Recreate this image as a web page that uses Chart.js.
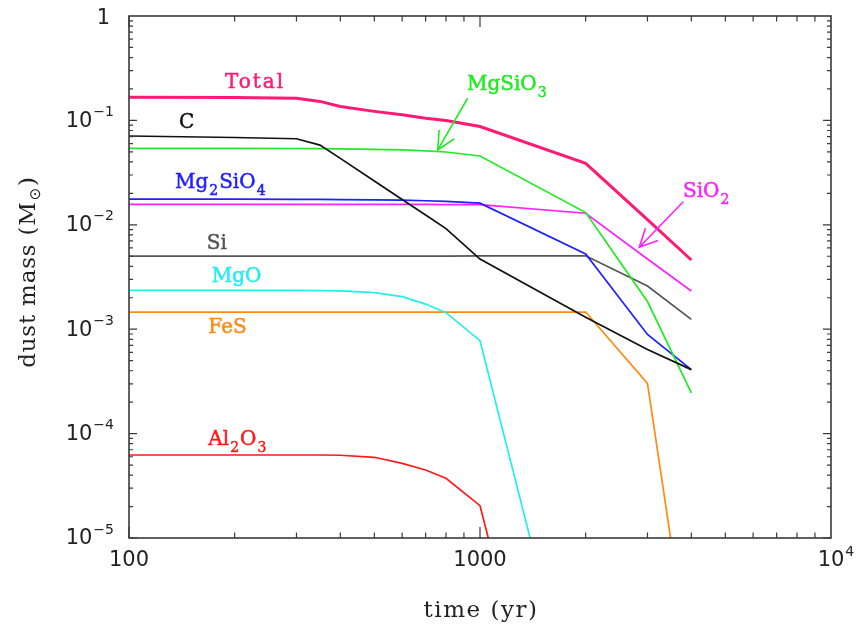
<!DOCTYPE html>
<html><head><meta charset="utf-8">
<script src="https://cdn.jsdelivr.net/npm/chart.js@4.4.1/dist/chart.umd.min.js"></script>
<style>html,body{margin:0;padding:0;background:#fff;}#wrap{width:866px;height:627px;}</style>
</head><body><div id="wrap"><canvas id="c" width="866" height="627"></canvas></div>
<script>
// ---- data (time in yr, dust mass in solar masses) ----
const times    = [100, 200, 300, 350, 400, 500, 600, 700, 800, 1000, 2000, 3000, 4000];
const total    = [0.167, 0.166, 0.163, 0.152, 0.136, 0.122, 0.113, 0.105, 0.100, 0.0874, 0.0388, 0.0112, 0.0046];
const carbon   = [0.0709, 0.0686, 0.0667, 0.058, 0.0433, 0.0263, 0.0175, 0.0124, 0.0092, 0.0047, 0.0013, 0.00064, 0.00041];
const mgsio3   = [0.054, 0.054, 0.0538, 0.0536, 0.0533, 0.0528, 0.0521, 0.051, 0.0498, 0.0456, 0.0131, 0.00184, 0.000246];
const mg2sio4  = [0.0176, 0.0176, 0.0175, 0.0175, 0.0174, 0.0173, 0.0172, 0.017, 0.0168, 0.0161, 0.00525, 0.00089, 0.00041];
const sio2     = [0.0157, 0.0157, 0.0157, 0.0157, 0.0157, 0.0157, 0.0157, 0.0157, 0.0156, 0.0156, 0.0129, 0.0047, 0.00232];
const si       = [0.00502, 0.00502, 0.00502, 0.00502, 0.00502, 0.00502, 0.00502, 0.00502, 0.00502, 0.00503, 0.00505, 0.00259, 0.00124];
const mgo      = [0.00236, 0.00236, 0.00235, 0.00234, 0.00233, 0.00224, 0.00205, 0.00174, 0.00144, 0.000776, 8e-8, null, null];
const fes      = [0.00146, 0.00146, 0.00146, 0.00146, 0.00146, 0.00146, 0.00146, 0.00146, 0.00146, 0.00146, 0.00146, 0.000303, 4.7e-7];
const al2o3    = [6.24e-5, 6.24e-5, 6.24e-5, 6.24e-5, 6.2e-5, 5.93e-5, 5.19e-5, 4.48e-5, 3.73e-5, 2.04e-5, 2.3e-9, null, null];

const seriesNames  = ['Total', 'C', 'MgSiO3', 'Mg2SiO4', 'SiO2', 'Si', 'MgO', 'FeS', 'Al2O3'];
const seriesValues = [total, carbon, mgsio3, mg2sio4, sio2, si, mgo, fes, al2o3];
const seriesColors = ['#ff1a75', '#111111', '#22ea22', '#1f1fff', '#ff22ff', '#555555', '#22eeee', '#ff8a14', '#ff1a1a'];
const seriesWidths = [3, 1.7, 1.7, 1.7, 1.7, 1.7, 1.7, 1.7, 1.7];

// label anchors (left, baseline) in data coordinates
const labelTimes  = [187.7, 138.8, 918, 135.2, 3786, 166.5, 172, 168.3, 168.3];
const labelMasses = [0.204, 0.0846, 0.1955, 0.02252, 0.01858, 0.00582, 0.00285, 0.000914, 7.78e-5];

// arrows (from label to curve) in data coordinates
const arrowSeries    = ['MgSiO3', 'SiO2'];
const arrowFromTime  = [922, 3794];
const arrowFromMass  = [0.163, 0.01665];
const arrowToTime    = [758, 2843];
const arrowToMass    = [0.0521, 0.00609];

// axis ticks
const xMajor = [100, 1000, 10000];
const xMajorLabels = [['100', ''], ['1000', ''], ['10', '4']];
const yMajor = [1, 0.1, 0.01, 0.001, 1e-4, 1e-5];
const yMajorLabels = [['1', ''], ['10', '\u22121'], ['10', '\u22122'], ['10', '\u22123'], ['10', '\u22124'], ['10', '\u22125']];

const xTitle = 'time (yr)';
const yTitle = 'dust mass (M';

// ---- helpers ----
function parseChem(s) {
  const parts = [];
  for (const ch of s) {
    const sub = /[0-9]/.test(ch);
    if (parts.length && parts[parts.length - 1].sub === sub) parts[parts.length - 1].t += ch;
    else parts.push({ t: ch, sub });
  }
  return parts;
}
const LABEL_FONT = 'DejaVu Serif';
function drawChem(ctx, x, y, text, color) {
  const parts = parseChem(text);
  ctx.save();
  ctx.fillStyle = color;
  ctx.strokeStyle = color;
  ctx.lineWidth = 0.5;
  ctx.textBaseline = 'alphabetic';
  ctx.textAlign = 'left';
  ctx.letterSpacing = text === 'Total' ? '2px' : '0px';
  let cx = x;
  for (const p of parts) {
    ctx.font = p.sub ? `14px "${LABEL_FONT}"` : `20px "${LABEL_FONT}"`;
    const yy = p.sub ? y + 7 : y;
    ctx.fillText(p.t, cx, yy);
    ctx.strokeText(p.t, cx, yy);
    cx += ctx.measureText(p.t).width + 1;
  }
  ctx.restore();
}

const overlay = {
  id: 'overlay',
  afterDatasetsDraw(chart) {
    const ctx = chart.ctx;
    const xs = chart.scales.x, ys = chart.scales.y;
    const a = chart.chartArea;
    ctx.save();
    // frame
    ctx.strokeStyle = '#3a3a3a';
    ctx.lineWidth = 1.6;
    ctx.strokeRect(a.left, a.top, a.right - a.left, a.bottom - a.top);
    // ticks
    ctx.lineWidth = 1.2;
    ctx.beginPath();
    for (let d = 100; d < 10000; d *= 10) {
      for (let k = 1; k <= 9; k++) {
        const v = k * d;
        const px = xs.getPixelForValue(v);
        const len = k === 1 ? 11 : 5.5;
        ctx.moveTo(px, a.bottom); ctx.lineTo(px, a.bottom - len);
        ctx.moveTo(px, a.top); ctx.lineTo(px, a.top + len);
      }
    }
    for (let e = -5; e < 0; e++) {
      for (let k = 1; k <= 9; k++) {
        const v = k * Math.pow(10, e);
        const py = ys.getPixelForValue(v);
        const len = k === 1 ? 8 : 4;
        ctx.moveTo(a.left, py); ctx.lineTo(a.left + len, py);
        ctx.moveTo(a.right, py); ctx.lineTo(a.right - len, py);
      }
    }
    ctx.stroke();

    // tick labels
    ctx.fillStyle = '#222';
    ctx.textBaseline = 'middle';
    const TF = 'DejaVu Sans';
    yMajor.forEach((v, i) => {
      const py = ys.getPixelForValue(v);
      const [base, sup] = yMajorLabels[i];
      ctx.font = `14px "${TF}"`;
      const sw = sup ? ctx.measureText(sup).width : 0;
      const right = 114;
      if (sup) {
        ctx.textAlign = 'right';
        ctx.fillText(sup, right, py - 8);
        ctx.font = `21px "${TF}"`;
        ctx.fillText(base, right - sw - 1, py + 1);
      } else {
        ctx.font = `21px "${TF}"`;
        ctx.textAlign = 'right';
        ctx.fillText(base, 110, py + 3);
      }
    });
    xMajor.forEach((v, i) => {
      const px = xs.getPixelForValue(v);
      const [base, sup] = xMajorLabels[i];
      ctx.font = `21px "${TF}"`;
      ctx.textAlign = 'center';
      ctx.fillText(base, px, 561);
      if (sup) {
        const bw = ctx.measureText(base).width;
        ctx.font = `14px "${TF}"`;
        ctx.textAlign = 'left';
        ctx.fillText(sup, px + bw / 2 + 1, 552);
      }
    });

    // axis titles
    ctx.fillStyle = '#222';
    ctx.font = `23px "${LABEL_FONT}"`;
    ctx.letterSpacing = '1.5px';
    ctx.textAlign = 'center';
    ctx.textBaseline = 'alphabetic';
    ctx.fillText(xTitle, (a.left + a.right) / 2 + 1, 617);
    ctx.save();
    ctx.translate(35, 272);
    ctx.rotate(-Math.PI / 2);
    ctx.letterSpacing = '0.8px';
    const t1 = yTitle, t2 = ')';
    const w1 = ctx.measureText(t1).width;
    ctx.font = `15px "DejaVu Sans"`;
    const wsun = ctx.measureText('\u2299').width + 2;
    ctx.font = `23px "${LABEL_FONT}"`;
    const w2 = ctx.measureText(t2).width;
    const tw = w1 + wsun + w2;
    ctx.textAlign = 'left';
    ctx.fillText(t1, -tw / 2, 0);
    ctx.font = `15px "DejaVu Sans"`;
    ctx.fillText('\u2299', -tw / 2 + w1 + 1, 5);
    ctx.font = `23px "${LABEL_FONT}"`;
    ctx.fillText(t2, -tw / 2 + w1 + wsun, 0);
    ctx.restore();
    ctx.letterSpacing = '0px';

    // series labels
    seriesNames.forEach((n, i) => {
      drawChem(ctx, xs.getPixelForValue(labelTimes[i]), ys.getPixelForValue(labelMasses[i]), n, seriesColors[i]);
    });

    // arrows
    arrowSeries.forEach((n, i) => {
      const c = seriesColors[seriesNames.indexOf(n)];
      const x0 = xs.getPixelForValue(arrowFromTime[i]), y0 = ys.getPixelForValue(arrowFromMass[i]);
      const x1 = xs.getPixelForValue(arrowToTime[i]), y1 = ys.getPixelForValue(arrowToMass[i]);
      const ang = Math.atan2(y0 - y1, x0 - x1);
      const hl = 20, ha = 26 * Math.PI / 180;
      ctx.strokeStyle = c;
      ctx.lineWidth = 1.6;
      ctx.beginPath();
      ctx.moveTo(x0, y0); ctx.lineTo(x1, y1);
      ctx.moveTo(x1 + hl * Math.cos(ang - ha), y1 + hl * Math.sin(ang - ha));
      ctx.lineTo(x1, y1);
      ctx.lineTo(x1 + hl * Math.cos(ang + ha), y1 + hl * Math.sin(ang + ha));
      ctx.stroke();
    });
    ctx.restore();
  }
};

const datasets = seriesNames.map((n, i) => ({
  label: n,
  data: times.map((t, j) => ({ x: t, y: seriesValues[i][j] })),
  borderColor: seriesColors[i],
  backgroundColor: seriesColors[i],
  borderWidth: seriesWidths[i],
  pointRadius: 0,
  tension: 0,
  spanGaps: false,
  clip: 0,
  order: i === 0 ? 0 : 1
}));

new Chart(document.getElementById('c'), {
  type: 'line',
  data: { datasets },
  options: {
    responsive: false,
    animation: false,
    devicePixelRatio: 1,
    layout: { padding: { left: 129, top: 16, right: 35, bottom: 89 } },
    scales: {
      x: { type: 'logarithmic', min: 100, max: 10000, display: false },
      y: { type: 'logarithmic', min: 1e-5, max: 1, display: false }
    },
    plugins: { legend: { display: false }, tooltip: { enabled: false } }
  },
  plugins: [overlay]
});
</script>
</body></html>
